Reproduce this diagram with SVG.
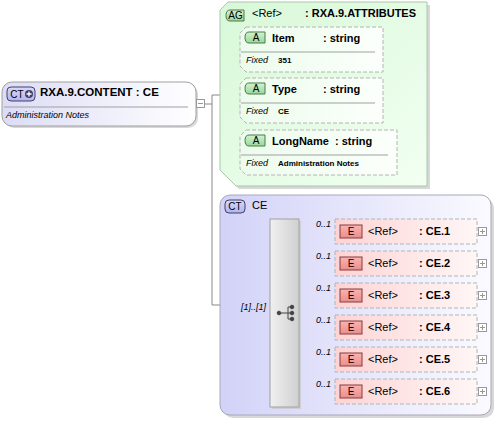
<svg xmlns="http://www.w3.org/2000/svg" width="495" height="421" viewBox="0 0 495 421">
<defs>
<linearGradient id="gNode" x1="0" y1="0" x2="1" y2="0"><stop offset="0" stop-color="#dcdcf6"/><stop offset="1" stop-color="#ffffff"/></linearGradient>
<linearGradient id="gCT" x1="0" y1="0" x2="1" y2="0"><stop offset="0" stop-color="#d2d2f8"/><stop offset="1" stop-color="#fafaff"/></linearGradient>
<linearGradient id="gAG" x1="0" y1="0" x2="1" y2="1"><stop offset="0" stop-color="#d8f8d8"/><stop offset="1" stop-color="#f2fff2"/></linearGradient>
<linearGradient id="gA" x1="0" y1="0" x2="1" y2="0"><stop offset="0" stop-color="#ecfcec"/><stop offset="1" stop-color="#fbfffb"/></linearGradient>
<linearGradient id="gE" x1="0" y1="0" x2="1" y2="0"><stop offset="0" stop-color="#fdd4d4"/><stop offset="1" stop-color="#fff6f6"/></linearGradient>
<linearGradient id="gSeq" x1="0" y1="0" x2="1" y2="0"><stop offset="0" stop-color="#f0f0f0"/><stop offset="1" stop-color="#d0d0d0"/></linearGradient>
<linearGradient id="gBadgeG" x1="0" y1="0" x2="0" y2="1"><stop offset="0" stop-color="#d2f2d2"/><stop offset="1" stop-color="#98d898"/></linearGradient>
<linearGradient id="gBadgeE" x1="0" y1="0" x2="0" y2="1"><stop offset="0" stop-color="#f6b4b4"/><stop offset="1" stop-color="#ee8c8c"/></linearGradient>
<linearGradient id="gBadgeC" x1="0" y1="0" x2="0" y2="1"><stop offset="0" stop-color="#d8d8fa"/><stop offset="1" stop-color="#b4b4ec"/></linearGradient>
</defs>
<style>
text{font-family:"Liberation Sans",Arial,sans-serif;fill:#000}
.b{font-weight:bold;font-size:11px}
.t{font-weight:bold;font-size:11.5px}
.n{font-size:11px}
.it{font-style:italic;font-size:9px}
.val{font-weight:bold;font-size:8px}
.occ{font-style:italic;font-size:9px}
.sh{fill:#c8c8c8;opacity:0.7}
.attr{fill:url(#gA);stroke:#b4b4b4;stroke-dasharray:4,2}
.ebox{fill:url(#gE);stroke:#b4b4b4;stroke-dasharray:4,2}
.sep{stroke:#a0a0a0;stroke-width:1}
.bg{fill:url(#gBadgeG);stroke:#4a7a4a}
.be{fill:url(#gBadgeE);stroke:#8a3a3a}
.bc{fill:url(#gBadgeC);stroke:#40406a}
.btxt{font-size:10px;text-anchor:middle}
.con{fill:none;stroke:#888;stroke-width:1}
.pm{fill:#fff;stroke:#999}
.pml{stroke:#999}
</style>

<g id="connectors">
<polyline class="con" points="205,104 212,104"/>
<polyline class="con" points="230,95 212,95 212,305 220,305"/>
<line class="con" x1="220" y1="313" x2="270" y2="313"/>
<polyline class="con" points="240,48 230,48 230,152 240,152"/>
<line class="con" x1="230" y1="99" x2="240" y2="99"/>
<line class="con" x1="299" y1="232" x2="335" y2="232"/>
<line class="con" x1="299" y1="264" x2="335" y2="264"/>
<line class="con" x1="299" y1="296" x2="335" y2="296"/>
<line class="con" x1="299" y1="328" x2="335" y2="328"/>
<line class="con" x1="299" y1="360" x2="335" y2="360"/>
<line class="con" x1="299" y1="392" x2="335" y2="392"/>
</g>

<g id="root">
<rect class="sh" x="4" y="84" width="194" height="44" rx="10"/>
<rect x="2" y="82" width="194" height="44" rx="10" fill="url(#gNode)" stroke="#a0a0a0"/>
<line class="sep" x1="4" y1="107" x2="188" y2="107"/>
<rect class="bc" x="7" y="87" width="28" height="14" rx="4"/>
<text x="17" y="98" class="btxt">CT</text>
<circle cx="29" cy="94" r="4" fill="#40406a"/>
<path d="M26.5,94 H31.5 M29,91.5 V96.5" stroke="#fff" stroke-width="1.3"/>
<text x="40" y="96" class="t">RXA.9.CONTENT : CE</text>
<text x="6" y="118" class="it">Administration Notes</text>
<rect class="pm" x="196.5" y="99.5" width="8" height="8"/>
<line class="pml" x1="198" y1="103.5" x2="203" y2="103.5"/>
</g>

<g id="attributes">
<polygon class="sh" points="223,13 231,5 430,5 430,189 239,189 223,173"/>
<polygon points="220,10 228,2 427,2 427,186 236,186 220,170" fill="url(#gAG)" stroke="#a8c8a8"/>
<path class="bg" d="M230,10 H244 V21 H230 Q226,21 226,15.5 Q226,10 230,10 Z"/>
<text x="235.5" y="19" class="btxt">AG</text>
<text x="252" y="17" class="n">&lt;Ref&gt;</text>
<text x="305" y="17" class="b">: RXA.9.ATTRIBUTES</text>
</g>

<g id="attr-item">
<path class="attr" d="M246,27 H383 V72 H246 L240,66 V33 Z"/>
<path class="bg" d="M249,32 H265 V43 H249 Q245,43 245,37.5 Q245,32 249,32 Z"/>
<text x="256" y="41" class="btxt">A</text>
<text x="272" y="42" class="b">Item</text>
<text x="323" y="42" class="b">: string</text>
<line class="sep" x1="241" y1="52" x2="375" y2="52"/>
<text x="246" y="63" class="it">Fixed</text>
<text x="278" y="63" class="val">351</text>
</g>

<g id="attr-type">
<path class="attr" d="M246,78 H383 V123 H246 L240,117 V84 Z"/>
<path class="bg" d="M249,83 H265 V94 H249 Q245,94 245,88.5 Q245,83 249,83 Z"/>
<text x="256" y="92" class="btxt">A</text>
<text x="272" y="93" class="b">Type</text>
<text x="323" y="93" class="b">: string</text>
<line class="sep" x1="241" y1="103" x2="375" y2="103"/>
<text x="246" y="114" class="it">Fixed</text>
<text x="278" y="114" class="val">CE</text>
</g>

<g id="attr-longname">
<path class="attr" d="M246,130 H397 V175 H246 L240,169 V136 Z"/>
<path class="bg" d="M249,135 H265 V146 H249 Q245,146 245,140.5 Q245,135 249,135 Z"/>
<text x="256" y="144" class="btxt">A</text>
<text x="272" y="145" class="b">LongName</text>
<text x="335" y="145" class="b">: string</text>
<line class="sep" x1="241" y1="155" x2="388" y2="155"/>
<text x="246" y="166" class="it">Fixed</text>
<text x="278" y="166" class="val">Administration Notes</text>
</g>

<g id="ct-ce">
<rect class="sh" x="223" y="198" width="271" height="220" rx="10"/>
<rect x="220" y="195" width="271" height="220" rx="10" fill="url(#gCT)" stroke="#a8a8b8"/>
<rect class="bc" x="225" y="200" width="20" height="13" rx="4"/>
<text x="235" y="210" class="btxt">CT</text>
<text x="252" y="209" class="n">CE</text>
<text x="241" y="310" class="occ">[1]..[1]</text>
</g>

<g id="sequence">
<rect class="sh" x="272" y="221" width="29" height="188"/>
<rect x="270" y="219" width="29" height="188" fill="url(#gSeq)" stroke="#a0a0a0"/>
<g fill="#444" stroke="#444">
<line x1="279" y1="313" x2="288" y2="313"/>
<line x1="288" y1="307" x2="288" y2="319"/>
<line x1="288" y1="307" x2="292" y2="307"/>
<line x1="288" y1="313" x2="292" y2="313"/>
<line x1="288" y1="319" x2="292" y2="319"/>
<circle cx="279" cy="313" r="1.8"/>
<circle cx="292" cy="307" r="1.8"/>
<circle cx="292" cy="313" r="1.8"/>
<circle cx="292" cy="319" r="1.8"/>
</g>
</g>

<g id="e-ce1">
<text x="316" y="227" class="occ">0..1</text>
<rect class="ebox" x="335" y="219" width="142" height="25"/>
<rect class="be" x="340" y="225" width="22" height="13"/>
<text x="351" y="235" class="btxt">E</text>
<text x="368" y="235" class="n">&lt;Ref&gt;</text>
<text x="419" y="235" class="b">: CE.1</text>
<rect class="pm" x="478.5" y="227.5" width="8" height="8"/>
<path class="pml" d="M480,231.5 H485 M482.5,229 V234"/>
</g>
<g id="e-ce2">
<text x="316" y="259" class="occ">0..1</text>
<rect class="ebox" x="335" y="251" width="142" height="25"/>
<rect class="be" x="340" y="257" width="22" height="13"/>
<text x="351" y="267" class="btxt">E</text>
<text x="368" y="267" class="n">&lt;Ref&gt;</text>
<text x="419" y="267" class="b">: CE.2</text>
<rect class="pm" x="478.5" y="259.5" width="8" height="8"/>
<path class="pml" d="M480,263.5 H485 M482.5,261 V266"/>
</g>
<g id="e-ce3">
<text x="316" y="291" class="occ">0..1</text>
<rect class="ebox" x="335" y="283" width="142" height="25"/>
<rect class="be" x="340" y="289" width="22" height="13"/>
<text x="351" y="299" class="btxt">E</text>
<text x="368" y="299" class="n">&lt;Ref&gt;</text>
<text x="419" y="299" class="b">: CE.3</text>
<rect class="pm" x="478.5" y="291.5" width="8" height="8"/>
<path class="pml" d="M480,295.5 H485 M482.5,293 V298"/>
</g>
<g id="e-ce4">
<text x="316" y="323" class="occ">0..1</text>
<rect class="ebox" x="335" y="315" width="142" height="25"/>
<rect class="be" x="340" y="321" width="22" height="13"/>
<text x="351" y="331" class="btxt">E</text>
<text x="368" y="331" class="n">&lt;Ref&gt;</text>
<text x="419" y="331" class="b">: CE.4</text>
<rect class="pm" x="478.5" y="323.5" width="8" height="8"/>
<path class="pml" d="M480,327.5 H485 M482.5,325 V330"/>
</g>
<g id="e-ce5">
<text x="316" y="355" class="occ">0..1</text>
<rect class="ebox" x="335" y="347" width="142" height="25"/>
<rect class="be" x="340" y="353" width="22" height="13"/>
<text x="351" y="363" class="btxt">E</text>
<text x="368" y="363" class="n">&lt;Ref&gt;</text>
<text x="419" y="363" class="b">: CE.5</text>
<rect class="pm" x="478.5" y="355.5" width="8" height="8"/>
<path class="pml" d="M480,359.5 H485 M482.5,357 V362"/>
</g>
<g id="e-ce6">
<text x="316" y="387" class="occ">0..1</text>
<rect class="ebox" x="335" y="379" width="142" height="25"/>
<rect class="be" x="340" y="385" width="22" height="13"/>
<text x="351" y="395" class="btxt">E</text>
<text x="368" y="395" class="n">&lt;Ref&gt;</text>
<text x="419" y="395" class="b">: CE.6</text>
<rect class="pm" x="478.5" y="387.5" width="8" height="8"/>
<path class="pml" d="M480,391.5 H485 M482.5,389 V394"/>
</g>
</svg>
